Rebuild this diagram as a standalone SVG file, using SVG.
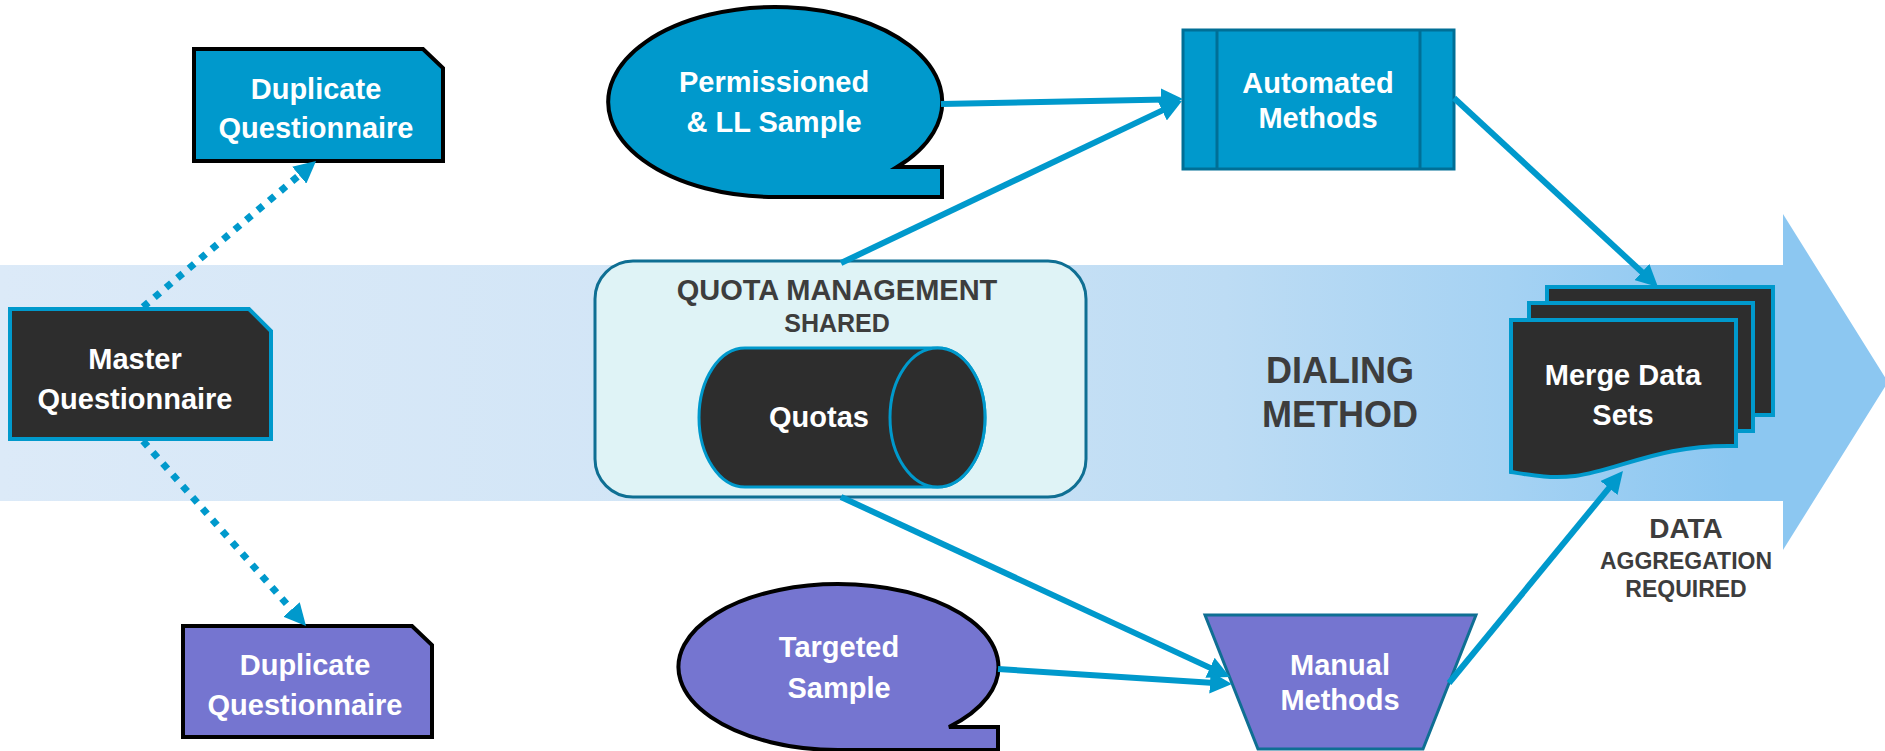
<svg xmlns="http://www.w3.org/2000/svg" width="1885" height="751" viewBox="0 0 1885 751">
  <style>
    .t { font-family: "Liberation Sans", Arial, sans-serif; font-weight: bold; text-anchor: middle; }
    .w { fill: #ffffff; font-size: 29px; }
    .g { fill: #3d3d3d; }
    .conn { stroke: #0099cc; stroke-width: 6; fill: none; marker-end: url(#ah); }
    .dot { stroke: #0099cc; stroke-width: 7; fill: none; stroke-dasharray: 7 8; marker-end: url(#ah); }
    .blk { stroke: #000000; stroke-width: 4; }
  </style>
  <defs>
    <linearGradient id="band" x1="0" y1="0" x2="1885" y2="0" gradientUnits="userSpaceOnUse">
      <stop offset="0" stop-color="#dceaf8"/>
      <stop offset="0.45" stop-color="#cfe4f6"/>
      <stop offset="0.65" stop-color="#bddcf4"/>
      <stop offset="0.8" stop-color="#a5d2f3"/>
      <stop offset="0.92" stop-color="#8cc7f1"/>
      <stop offset="1" stop-color="#8cc7f1"/>
    </linearGradient>
    <marker id="ah" viewBox="0 0 10 10" markerWidth="22" markerHeight="22" refX="2" refY="5" orient="auto" markerUnits="userSpaceOnUse">
      <path d="M0,0 L10,5 L0,10 Z" fill="#0099cc"/>
    </marker>
  </defs>

  <path id="band-arrow" d="M0,265 H1783 V214 L1888,382 L1783,550 V501 H0 Z" fill="url(#band)"/>

  <g id="dialing-label">
    <text class="t g" x="1340" y="383" font-size="36">DIALING</text>
    <text class="t g" x="1340" y="427" font-size="36">METHOD</text>
  </g>
  <g id="aggregation-label">
    <text class="t g" x="1686" y="538" font-size="28">DATA</text>
    <text class="t g" x="1686" y="569" font-size="23">AGGREGATION</text>
    <text class="t g" x="1686" y="597" font-size="23">REQUIRED</text>
  </g>

  <g id="dup-top">
    <path d="M194,49 H423 L443,68 V161 H194 Z" fill="#0099cc" class="blk"/>
    <text class="t w" x="316" y="99">Duplicate</text>
    <text class="t w" x="316" y="138">Questionnaire</text>
  </g>

  <g id="master">
    <path d="M10,309 H249 L271,331 V439 H10 Z" fill="#2d2d2d" stroke="#0099cc" stroke-width="4"/>
    <text class="t w" x="135" y="369">Master</text>
    <text class="t w" x="135" y="409">Questionnaire</text>
  </g>

  <g id="dup-bottom">
    <path d="M183,626 H412 L432,645 V737 H183 Z" fill="#7575d0" class="blk"/>
    <text class="t w" x="305" y="675">Duplicate</text>
    <text class="t w" x="305" y="715">Questionnaire</text>
  </g>

  <g id="permissioned">
    <path d="M897,167 L942,167 L942,197 L775,197 A167,95 0 1 1 897,167 Z" fill="#0099cc" class="blk"/>
    <text class="t w" x="774" y="92">Permissioned</text>
    <text class="t w" x="774" y="132">&amp; LL Sample</text>
  </g>

  <g id="automated">
    <rect x="1183" y="30" width="271" height="139" fill="#0099cc" stroke="#006f96" stroke-width="3"/>
    <line x1="1217" y1="30" x2="1217" y2="169" stroke="#006f96" stroke-width="3"/>
    <line x1="1420" y1="30" x2="1420" y2="169" stroke="#006f96" stroke-width="3"/>
    <text class="t w" x="1318" y="93">Automated</text>
    <text class="t w" x="1318" y="128">Methods</text>
  </g>

  <g id="quota-management">
    <rect x="595" y="261" width="491" height="236" rx="38" ry="38" fill="#dff3f6" stroke="#0f6f93" stroke-width="3"/>
    <text class="t g" x="837" y="300" font-size="29">QUOTA MANAGEMENT</text>
    <text class="t g" x="837" y="332" font-size="25">SHARED</text>
  </g>

  <g id="quotas">
    <path d="M745,348 H937.5 A47.5,69.5 0 0 1 937.5,487 H745 A46,69.5 0 0 1 745,348 Z" fill="#2d2d2d" stroke="#0099cc" stroke-width="3"/>
    <ellipse cx="937.5" cy="417.5" rx="47.5" ry="69.5" fill="#2d2d2d" stroke="#0099cc" stroke-width="3"/>
    <text class="t w" x="819" y="427">Quotas</text>
  </g>

  <g id="merge">
    <rect x="1547" y="287" width="226" height="128" fill="#2d2d2d" stroke="#0099cc" stroke-width="4"/>
    <rect x="1529" y="303" width="224" height="128" fill="#2d2d2d" stroke="#0099cc" stroke-width="4"/>
    <path d="M1511,320 H1736 V446 C1660,444 1620,470 1575,476 C1550,479 1530,475 1511,472 Z" fill="#2d2d2d" stroke="#0099cc" stroke-width="4"/>
    <text class="t w" x="1623" y="385">Merge Data</text>
    <text class="t w" x="1623" y="425">Sets</text>
  </g>

  <g id="targeted">
    <path d="M949,727 L998,727 L998,750 L838,750 A160,83 0 1 1 949,727 Z" fill="#7575d0" class="blk"/>
    <text class="t w" x="839" y="657">Targeted</text>
    <text class="t w" x="839" y="698">Sample</text>
  </g>

  <g id="manual">
    <path d="M1205,615 H1476 L1423,749 H1258 Z" fill="#7575d0" stroke="#0f6f93" stroke-width="3"/>
    <text class="t w" x="1340" y="675">Manual</text>
    <text class="t w" x="1340" y="710">Methods</text>
  </g>

  <g id="connectors">
    <line class="dot" x1="143" y1="307" x2="302.6" y2="172.4"/>
    <line class="dot" x1="143" y1="441" x2="294.4" y2="612.8"/>
    <line class="conn" x1="941" y1="104" x2="1165.4" y2="99.4"/>
    <line class="conn" x1="841" y1="263" x2="1166.1" y2="108.6"/>
    <line class="conn" x1="1454" y1="98" x2="1645.1" y2="275"/>
    <line class="conn" x1="841" y1="497" x2="1214" y2="669.6"/>
    <line class="conn" x1="998" y1="669" x2="1214.4" y2="682.9"/>
    <line class="conn" x1="1449" y1="683" x2="1611.8" y2="484.6"/>
  </g>
</svg>
